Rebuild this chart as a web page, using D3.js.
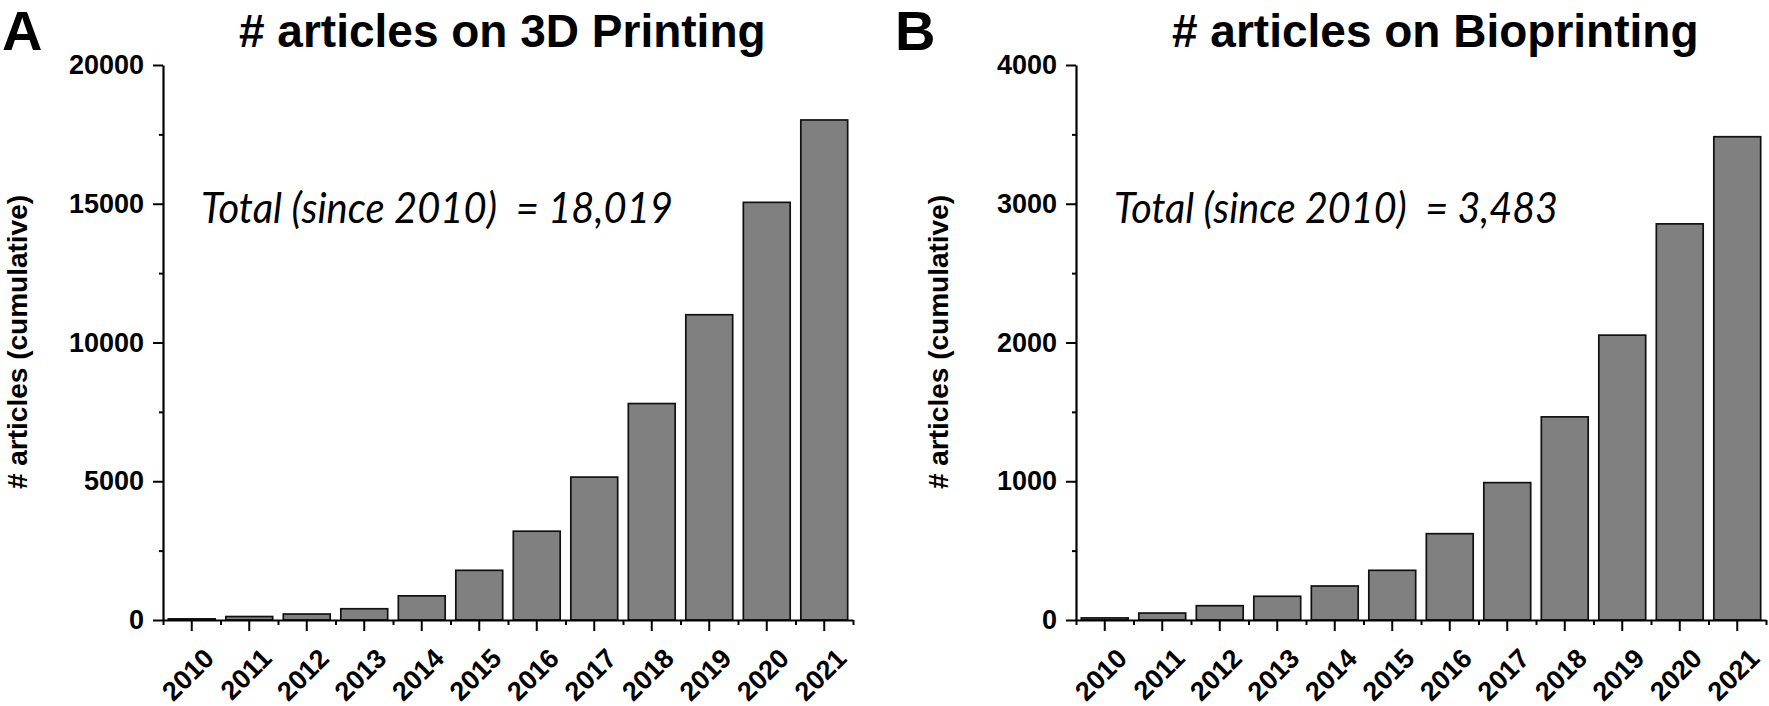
<!DOCTYPE html>
<html>
<head>
<meta charset="utf-8">
<script src="https://cdn.jsdelivr.net/npm/d3@7"></script>
<style>
  body { margin: 0; background: #fff; }
  svg { display: block; }
  text { font-family: "Liberation Sans", Arial, sans-serif; }
</style>
</head>
<body>
<div id="chart"></div>
<script>
var years = ['2010', '2011', '2012', '2013', '2014', '2015', '2016', '2017', '2018', '2019', '2020', '2021'];
var printingCounts = [40, 125, 215, 405, 870, 1790, 3200, 5150, 7800, 11000, 15050, 18019];
var bioprintingCounts = [15, 50, 103, 171, 245, 358, 622, 990, 1464, 2053, 2855, 3483];
var printingTicks = [0, 5000, 10000, 15000, 20000];
var printingMinor = [2500, 7500, 12500, 17500];
var bioTicks = [0, 1000, 2000, 3000, 4000];
var bioMinor = [500, 1500, 2500, 3500];

var width = 1769, height = 706;

var svg = d3.select('#chart').append('svg')
	.attr('width', width)
	.attr('height', height);

function drawPanel(opts){
	var g = svg.append('g');

	var x = d3.scaleBand()
		.domain(years)
		.range([opts.left, opts.left + 690])
		.paddingInner(0.185)
		.paddingOuter(0.0925);

	var y = d3.scaleLinear()
		.domain([0, opts.max])
		.range([620, 65]);

	// bars
	g.selectAll('rect.bar')
		.data(opts.values)
		.enter().append('rect')
		.attr('class', 'bar')
		.attr('x', function(d, i){ return x(years[i]); })
		.attr('width', x.bandwidth())
		.attr('y', function(d){ return y(d); })
		.attr('height', function(d){ return y(0) - y(d); })
		.attr('fill', '#808080')
		.attr('stroke', '#111')
		.attr('stroke-width', 1.7);

	// y axis, minor ticks first
	g.append('g')
		.attr('transform', 'translate(' + opts.left + ',0)')
		.call(d3.axisLeft(y).tickValues(opts.minor).tickSize(4).tickSizeOuter(0).tickFormat(''))
		.call(function(a){ a.select('.domain').remove(); })
		.selectAll('line').attr('stroke-width', 2);

	var yAxis = g.append('g')
		.attr('class', 'y-axis')
		.attr('transform', 'translate(' + opts.left + ',0)')
		.call(d3.axisLeft(y).tickValues(opts.ticks).tickSize(10).tickSizeOuter(0).tickPadding(9).tickFormat(d3.format('d')));
	yAxis.select('.domain').attr('stroke-width', 2.2);
	yAxis.selectAll('line').attr('stroke-width', 2);
	yAxis.selectAll('text')
		.attr('font-size', 27)
		.attr('font-weight', 'bold')
		.attr('fill', '#000');

	// x axis: boundary ticks via a linear index scale
	var bounds = d3.scaleLinear().domain([0, years.length]).range(x.range());
	g.append('g')
		.attr('transform', 'translate(0,620)')
		.call(d3.axisBottom(bounds).tickValues(d3.range(years.length + 1)).tickSize(5).tickSizeOuter(0).tickFormat(''))
		.call(function(a){ a.select('.domain').attr('stroke-width', 2.2); })
		.selectAll('line').attr('stroke-width', 2);

	var xAxis = g.append('g')
		.attr('transform', 'translate(0,620)')
		.call(d3.axisBottom(x).tickSize(11).tickSizeOuter(0));
	xAxis.select('.domain').remove();
	xAxis.selectAll('line').attr('stroke-width', 2);
	xAxis.selectAll('text')
		.attr('font-size', 27)
		.attr('font-weight', 'bold')
		.attr('fill', '#000')
		.attr('x', 0)
		.attr('y', 0)
		.attr('dy', 0)
		.attr('transform', 'translate(24,40) rotate(-45)')
		.style('text-anchor', 'end');

	// y label
	svg.append('text')
		.attr('transform', 'translate(' + opts.yLabelX + ',342) rotate(-90)')
		.attr('text-anchor', 'middle')
		.attr('font-size', 28)
		.attr('font-weight', 'bold')
		.text('# articles (cumulative)');

	// panel letter
	svg.append('text')
		.attr('x', opts.letterX)
		.attr('y', 50)
		.attr('font-size', 56)
		.attr('font-weight', 'bold')
		.text(opts.letter);

	// title
	svg.append('text')
		.attr('x', opts.titleX)
		.attr('y', 47)
		.attr('font-size', 46)
		.attr('font-weight', 'bold')
		.text(opts.title);

	// total annotation
	svg.append('text')
		.attr('x', opts.noteX)
		.attr('y', 223)
		.attr('font-size', 43)
		.attr('font-style', 'italic')
		.attr('textLength', opts.noteLen)
		.attr('lengthAdjust', 'spacingAndGlyphs')
		.style('font-family', 'Lato, "Open Sans", sans-serif')
		.style('white-space', 'pre')
		.text(opts.note);
}

drawPanel({
	left: 163,
	max: 20000,
	values: printingCounts,
	ticks: printingTicks,
	minor: printingMinor,
	yLabelX: 27,
	letter: 'A',
	letterX: 2,
	title: '# articles on 3D Printing',
	titleX: 239,
	note: 'Total (since 2010)  = 18,019',
	noteX: 201,
	noteLen: 472
});

drawPanel({
	left: 1076,
	max: 4000,
	values: bioprintingCounts,
	ticks: bioTicks,
	minor: bioMinor,
	yLabelX: 948,
	letter: 'B',
	letterX: 895,
	title: '# articles on Bioprinting',
	titleX: 1172,
	note: 'Total (since 2010)  = 3,483',
	noteX: 1114,
	noteLen: 444
});
</script>
</body>
</html>
